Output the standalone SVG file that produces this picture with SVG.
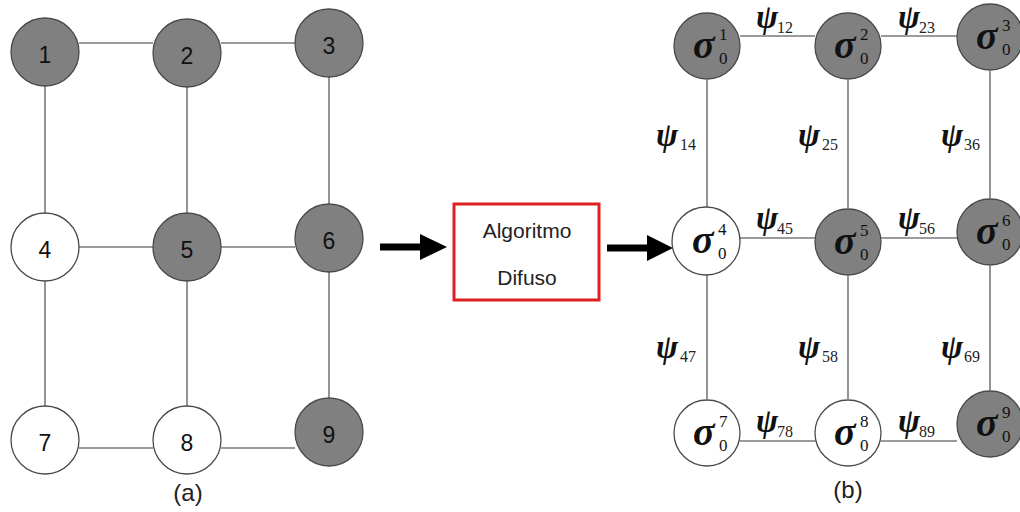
<svg xmlns="http://www.w3.org/2000/svg" width="1020" height="512" viewBox="0 0 1020 512">
<defs>
<style>
.edge{stroke:#7a7a7a;stroke-width:1.6;fill:none}
.g{fill:#808080;stroke:#4a4a4a;stroke-width:1.3}
.w{fill:#ffffff;stroke:#4a4a4a;stroke-width:1.3}
.num{font-family:"Liberation Sans",Arial,sans-serif;font-size:23px;fill:#111;text-anchor:middle}
.cap{font-family:"Liberation Sans",Arial,sans-serif;font-size:24px;fill:#222;text-anchor:middle}
.box{font-family:"Liberation Sans",Arial,sans-serif;font-size:21px;fill:#222;text-anchor:middle}
.psi{font-family:"Liberation Serif","Times New Roman",serif;font-size:33px;font-style:italic;font-weight:bold;fill:#111}
.sub{font-family:"Liberation Serif","Times New Roman",serif;font-size:16px;fill:#222}
.sig{font-family:"Liberation Serif","Times New Roman",serif;font-size:40px;font-style:italic;font-weight:bold;fill:#111}
.sm{font-family:"Liberation Serif","Times New Roman",serif;font-size:17px;fill:#111}
</style>
</defs>
<rect width="1020" height="512" fill="#ffffff"/>

<g id="connectors">
<!-- left graph -->
<line class="edge" x1="79" y1="43" x2="153" y2="43"/>
<line class="edge" x1="221" y1="43" x2="295" y2="43"/>
<line class="edge" x1="79" y1="247" x2="153" y2="247"/>
<line class="edge" x1="221" y1="247" x2="295" y2="247"/>
<line class="edge" x1="79" y1="448" x2="153" y2="448"/>
<line class="edge" x1="221" y1="448" x2="295" y2="448"/>
<line class="edge" x1="45" y1="86" x2="45" y2="213"/>
<line class="edge" x1="187" y1="87" x2="187" y2="213"/>
<line class="edge" x1="329" y1="77" x2="329" y2="204"/>
<line class="edge" x1="45" y1="281" x2="45" y2="406"/>
<line class="edge" x1="187" y1="281" x2="187" y2="406"/>
<line class="edge" x1="329" y1="272" x2="329" y2="398"/>
<!-- right graph -->
<line class="edge" x1="740" y1="36" x2="815" y2="36"/>
<line class="edge" x1="881" y1="36" x2="957" y2="36"/>
<line class="edge" x1="740" y1="238" x2="815" y2="238"/>
<line class="edge" x1="881" y1="238" x2="957" y2="238"/>
<line class="edge" x1="740" y1="441" x2="815" y2="441"/>
<line class="edge" x1="881" y1="441" x2="957" y2="441"/>
<line class="edge" x1="707" y1="80" x2="707" y2="207"/>
<line class="edge" x1="848" y1="80" x2="848" y2="208"/>
<line class="edge" x1="990" y1="71" x2="990" y2="198"/>
<line class="edge" x1="707" y1="275" x2="707" y2="399"/>
<line class="edge" x1="848" y1="276" x2="848" y2="399"/>
<line class="edge" x1="990" y1="266" x2="990" y2="390"/>
<!-- thick arrows -->
<polygon fill="#000" points="380,243.5 420,243.5 420,234 447,247 420,260 420,250.5 380,250.5"/>
<polygon fill="#000" points="607,244.5 647,244.5 647,235 673,248 647,261 647,251.5 607,251.5"/>
</g>

<!-- left graph nodes -->
<g id="a1"><circle class="g" cx="45" cy="52" r="34"/><text class="num" x="45" y="63">1</text></g>
<g id="a2"><circle class="g" cx="187" cy="53" r="34"/><text class="num" x="187" y="64">2</text></g>
<g id="a3"><circle class="g" cx="329" cy="43" r="34"/><text class="num" x="329" y="54">3</text></g>
<g id="a4"><circle class="w" cx="45" cy="247" r="34"/><text class="num" x="45" y="258">4</text></g>
<g id="a5"><circle class="g" cx="187" cy="247" r="34"/><text class="num" x="187" y="258">5</text></g>
<g id="a6"><circle class="g" cx="329" cy="238" r="34"/><text class="num" x="329" y="249">6</text></g>
<g id="a7"><circle class="w" cx="45" cy="440" r="34"/><text class="num" x="45" y="451">7</text></g>
<g id="a8"><circle class="w" cx="187" cy="440" r="34"/><text class="num" x="187" y="451">8</text></g>
<g id="a9"><circle class="g" cx="329" cy="432" r="34"/><text class="num" x="329" y="443">9</text></g>
<text class="cap" x="188" y="501">(a)</text>

<!-- middle box -->
<g id="algoritmo">
<rect x="454" y="204" width="145" height="96" fill="#fff" stroke="#e02020" stroke-width="3"/>
<text class="box" x="527" y="238">Algoritmo</text>
<text class="box" x="527" y="285">Difuso</text>
</g>

<!-- right graph nodes -->
<g id="b1"><circle class="g" cx="707" cy="46" r="33"/><text class="sig" x="693" y="58">σ</text><text class="sm" x="719" y="40">1</text><text class="sm" x="719" y="64">0</text></g>
<g id="b2"><circle class="g" cx="848" cy="46" r="33"/><text class="sig" x="834" y="58">σ</text><text class="sm" x="860" y="40">2</text><text class="sm" x="860" y="64">0</text></g>
<g id="b3"><circle class="g" cx="990" cy="37" r="33"/><text class="sig" x="976" y="49">σ</text><text class="sm" x="1002" y="31">3</text><text class="sm" x="1002" y="55">0</text></g>
<g id="b4"><circle class="w" cx="706" cy="241" r="34"/><text class="sig" x="692" y="253">σ</text><text class="sm" x="718" y="235">4</text><text class="sm" x="718" y="259">0</text></g>
<g id="b5"><circle class="g" cx="848" cy="242" r="33"/><text class="sig" x="834" y="254">σ</text><text class="sm" x="860" y="236">5</text><text class="sm" x="860" y="260">0</text></g>
<g id="b6"><circle class="g" cx="990" cy="232" r="33"/><text class="sig" x="976" y="244">σ</text><text class="sm" x="1002" y="226">6</text><text class="sm" x="1002" y="250">0</text></g>
<g id="b7"><circle class="w" cx="707" cy="433" r="33"/><text class="sig" x="693" y="445">σ</text><text class="sm" x="719" y="427">7</text><text class="sm" x="719" y="451">0</text></g>
<g id="b8"><circle class="w" cx="848" cy="433" r="33"/><text class="sig" x="834" y="445">σ</text><text class="sm" x="860" y="427">8</text><text class="sm" x="860" y="451">0</text></g>
<g id="b9"><circle class="g" cx="990" cy="424" r="33"/><text class="sig" x="976" y="436">σ</text><text class="sm" x="1002" y="418">9</text><text class="sm" x="1002" y="442">0</text></g>

<!-- psi labels -->
<g id="psi-labels">
<text x="756" y="28"><tspan class="psi">ψ</tspan><tspan class="sub" x="777" y="33">12</tspan></text>
<text x="898" y="28"><tspan class="psi">ψ</tspan><tspan class="sub" x="919" y="33">23</tspan></text>
<text x="656" y="146"><tspan class="psi">ψ</tspan><tspan class="sub" x="680" y="150">14</tspan></text>
<text x="798" y="146"><tspan class="psi">ψ</tspan><tspan class="sub" x="822" y="150">25</tspan></text>
<text x="941" y="146"><tspan class="psi">ψ</tspan><tspan class="sub" x="964" y="150">36</tspan></text>
<text x="756" y="229"><tspan class="psi">ψ</tspan><tspan class="sub" x="777" y="234">45</tspan></text>
<text x="898" y="229"><tspan class="psi">ψ</tspan><tspan class="sub" x="919" y="234">56</tspan></text>
<text x="656" y="358"><tspan class="psi">ψ</tspan><tspan class="sub" x="680" y="362">47</tspan></text>
<text x="798" y="358"><tspan class="psi">ψ</tspan><tspan class="sub" x="822" y="362">58</tspan></text>
<text x="941" y="358"><tspan class="psi">ψ</tspan><tspan class="sub" x="964" y="362">69</tspan></text>
<text x="756" y="432"><tspan class="psi">ψ</tspan><tspan class="sub" x="777" y="437">78</tspan></text>
<text x="898" y="432"><tspan class="psi">ψ</tspan><tspan class="sub" x="919" y="437">89</tspan></text>
</g>
<text class="cap" x="848" y="498">(b)</text>
</svg>
